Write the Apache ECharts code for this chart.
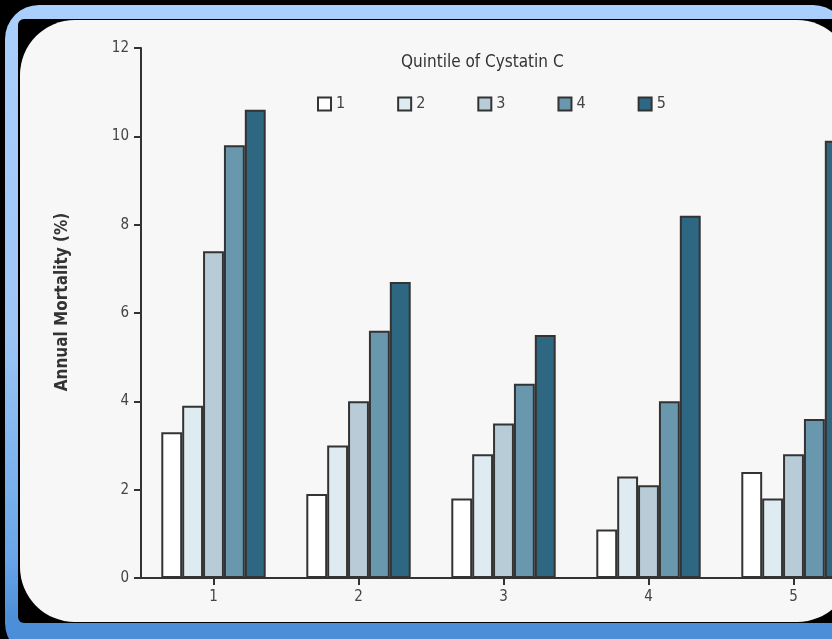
<!DOCTYPE html>
<html>
<head>
<meta charset="utf-8">
<script src="https://cdn.jsdelivr.net/npm/echarts@6/dist/echarts.min.js"></script>
<style>
  html, body { margin: 0; padding: 0; background: #000; overflow: hidden; width: 832px; height: 639px; }
  #chart { width: 900px; height: 639px; }
</style>
</head>
<body>
<div id="chart"></div>
<script>
// ---- data ----
const categories = ['1', '2', '3', '4', '5'];
const quintileNames = ['1', '2', '3', '4', '5'];
const q1 = [3.3, 1.9, 1.8, 1.1, 2.4];
const q2 = [3.9, 3.0, 2.8, 2.3, 1.8];
const q3 = [7.4, 4.0, 3.5, 2.1, 2.8];
const q4 = [9.8, 5.6, 4.4, 4.0, 3.6];
const q5 = [10.6, 6.7, 5.5, 8.2, 9.9];
const yMin = 0, yMax = 12, yStep = 2;
const titleText = 'Quintile of Cystatin C';
const yName = 'Annual Mortality (%)';

// ---- style ----
const colors = ['#ffffff', '#deebf1', '#b8ccd8', '#6897ae', '#2d6781'];
const FONT = "'Liberation Sans Narrow', 'DejaVu Sans Condensed', 'Liberation Sans', sans-serif";
const seriesData = [q1, q2, q3, q4, q5];

const chart = echarts.init(document.getElementById('chart'));
chart.setOption({
  backgroundColor: '#000',
  animation: false,
  graphic: {
    elements: [
      {
        type: 'rect', z: -30, silent: true,
        shape: { x: 5, y: 5, width: 842, height: 652, r: 34 },
        style: {
          fill: {
            type: 'linear', x: 0, y: 0, x2: 0, y2: 1,
            colorStops: [
              { offset: 0, color: '#aacffd' },
              { offset: 0.5, color: '#9cc5f5' },
              { offset: 0.85, color: '#68a5e8' },
              { offset: 0.94, color: '#4c8fd8' },
              { offset: 1, color: '#4a8ed6' }
            ]
          }
        }
      },
      {
        type: 'rect', z: -20, silent: true,
        shape: { x: 18, y: 19, width: 840, height: 604, r: 6 },
        style: { fill: '#000' }
      },
      {
        type: 'rect', z: -10, silent: true,
        shape: { x: 20, y: 20, width: 832, height: 602, r: 55 },
        style: { fill: '#f7f7f7' }
      }
    ]
  },
  title: {
    text: titleText,
    left: 396,
    top: 49,
    textStyle: { fontFamily: FONT, fontSize: 17, fontWeight: 'normal', color: '#333' }
  },
  legend: {
    data: quintileNames,
    left: 312,
    top: 91,
    icon: 'rect',
    itemWidth: 13,
    itemHeight: 13,
    itemGap: 52,
    itemStyle: { borderColor: '#333', borderWidth: 2 },
    textStyle: { fontFamily: FONT, fontSize: 16, color: '#444' }
  },
  grid: { left: 141, top: 48, width: 725, height: 530, containLabel: false },
  xAxis: {
    type: 'category',
    data: categories,
    boundaryGap: true,
    axisLine: { show: true, lineStyle: { color: '#333', width: 2 } },
    axisTick: { show: true, alignWithLabel: true, length: 7, lineStyle: { color: '#333', width: 2 } },
    axisLabel: { margin: 12, fontFamily: FONT, fontSize: 15, color: '#444' },
    splitLine: { show: false }
  },
  yAxis: {
    type: 'value',
    min: yMin, max: yMax, interval: yStep,
    name: yName,
    nameLocation: 'middle',
    nameGap: 70,
    nameTextStyle: { fontFamily: FONT, fontSize: 17, fontWeight: 'bold', color: '#333', padding: [0, 0, 0, 22] },
    axisLine: { show: true, lineStyle: { color: '#333', width: 2 } },
    axisTick: { show: true, length: 7, lineStyle: { color: '#333', width: 2 } },
    axisLabel: { margin: 12, fontFamily: FONT, fontSize: 15, color: '#444' },
    splitLine: { show: false }
  },
  series: seriesData.map((d, i) => ({
    name: quintileNames[i],
    type: 'bar',
    data: d,
    barGap: '0%',
    barCategoryGap: '28%',
    itemStyle: { color: colors[i], borderColor: '#333', borderWidth: 2 }
  }))
});
</script>
</body>
</html>
